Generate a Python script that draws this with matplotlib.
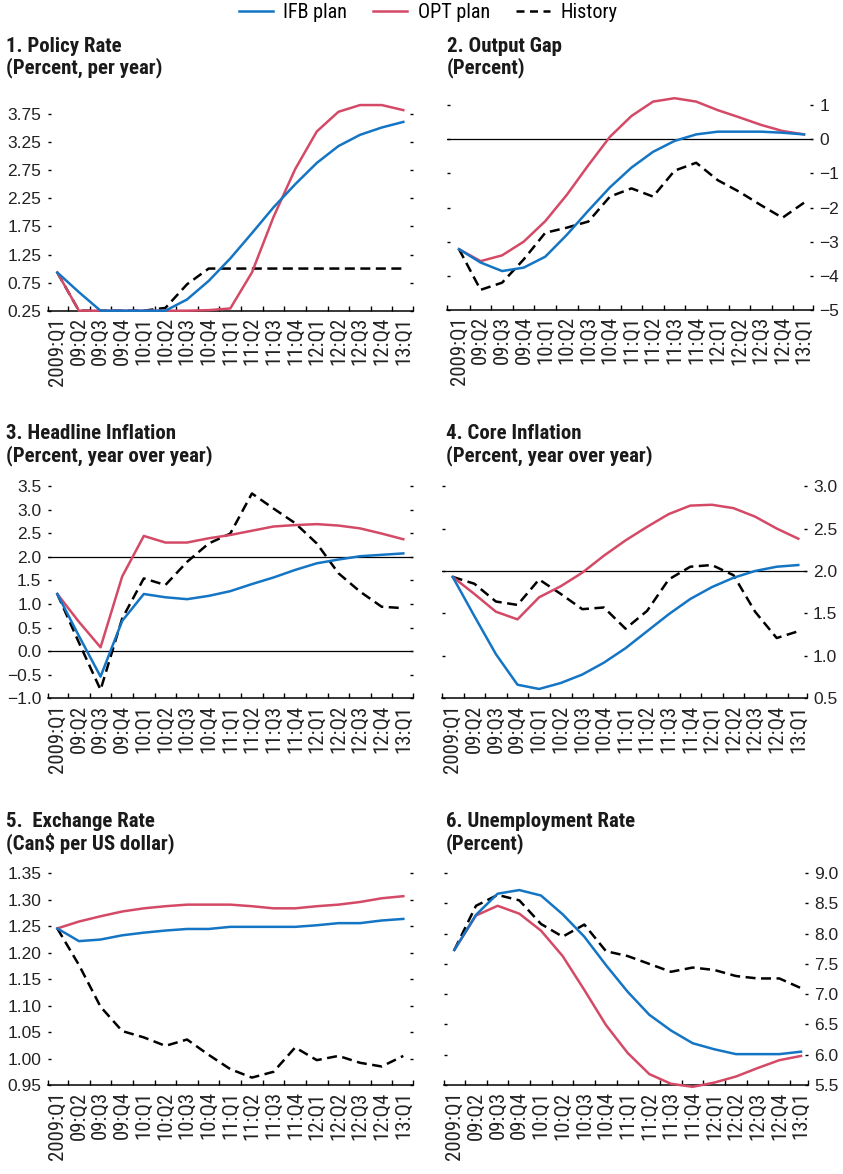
import matplotlib
matplotlib.use("Agg")
import matplotlib.pyplot as plt
from matplotlib import font_manager as fm
from matplotlib.lines import Line2D

# ---------------- data ----------------
quarters = ['2009:Q1', '09:Q2', '09:Q3', '09:Q4', '10:Q1', '10:Q2', '10:Q3', '10:Q4',
            '11:Q1', '11:Q2', '11:Q3', '11:Q4', '12:Q1', '12:Q2', '12:Q3', '12:Q4', '13:Q1']

policy_ifb = [0.93, 0.58, 0.25, 0.25, 0.25, 0.25, 0.45, 0.78, 1.18, 1.63, 2.09, 2.50, 2.88, 3.18, 3.38, 3.51, 3.61]
policy_opt = [0.93, 0.25, 0.25, 0.25, 0.25, 0.25, 0.25, 0.26, 0.29, 0.93, 1.92, 2.77, 3.44, 3.79, 3.91, 3.91, 3.82]
policy_hist = [0.93, 0.25, 0.25, 0.25, 0.25, 0.30, 0.72, 1.00, 1.00, 1.00, 1.00, 1.00, 1.00, 1.00, 1.00, 1.00, 1.00]

gap_ifb = [-3.22, -3.61, -3.86, -3.76, -3.44, -2.80, -2.09, -1.41, -0.83, -0.37, -0.05, 0.14, 0.22, 0.22, 0.22, 0.19, 0.14]
gap_opt = [-3.22, -3.57, -3.40, -3.00, -2.40, -1.63, -0.76, 0.07, 0.68, 1.10, 1.20, 1.10, 0.85, 0.64, 0.42, 0.24, 0.14]
gap_hist = [-3.22, -4.41, -4.20, -3.52, -2.74, -2.59, -2.41, -1.68, -1.44, -1.68, -0.92, -0.69, -1.20, -1.54, -1.93, -2.30, -1.86]

headline_ifb = [1.21, 0.32, -0.54, 0.64, 1.21, 1.14, 1.10, 1.17, 1.27, 1.42, 1.56, 1.72, 1.86, 1.94, 2.01, 2.04, 2.07]
headline_opt = [1.21, 0.62, 0.08, 1.58, 2.44, 2.30, 2.30, 2.39, 2.46, 2.55, 2.64, 2.67, 2.69, 2.66, 2.60, 2.49, 2.37]
headline_hist = [1.21, 0.18, -0.82, 0.69, 1.54, 1.40, 1.89, 2.28, 2.49, 3.34, 3.02, 2.71, 2.28, 1.65, 1.26, 0.94, 0.91]

core_ifb = [1.93, 1.47, 1.02, 0.66, 0.61, 0.68, 0.78, 0.92, 1.09, 1.29, 1.49, 1.67, 1.81, 1.92, 2.00, 2.05, 2.07]
core_opt = [1.93, 1.73, 1.52, 1.43, 1.69, 1.82, 1.98, 2.18, 2.36, 2.52, 2.67, 2.77, 2.78, 2.74, 2.64, 2.50, 2.38]
core_hist = [1.93, 1.85, 1.64, 1.60, 1.90, 1.73, 1.55, 1.57, 1.32, 1.53, 1.90, 2.05, 2.07, 1.95, 1.52, 1.21, 1.29]

fx_ifb = [1.246, 1.222, 1.225, 1.233, 1.238, 1.242, 1.245, 1.245, 1.249, 1.249, 1.249, 1.249, 1.252, 1.256, 1.256, 1.261, 1.264]
fx_opt = [1.246, 1.259, 1.269, 1.278, 1.284, 1.288, 1.291, 1.291, 1.291, 1.288, 1.284, 1.284, 1.288, 1.291, 1.296, 1.303, 1.307]
fx_hist = [1.246, 1.177, 1.098, 1.052, 1.040, 1.024, 1.036, 1.007, 0.980, 0.964, 0.975, 1.021, 0.997, 1.005, 0.992, 0.985, 1.005]

unemp_ifb = [7.73, 8.31, 8.66, 8.72, 8.63, 8.32, 7.95, 7.48, 7.04, 6.66, 6.40, 6.19, 6.09, 6.01, 6.01, 6.01, 6.05]
unemp_opt = [7.73, 8.30, 8.46, 8.33, 8.05, 7.63, 7.07, 6.49, 6.03, 5.68, 5.52, 5.47, 5.54, 5.64, 5.78, 5.91, 5.98]
unemp_hist = [7.73, 8.46, 8.64, 8.55, 8.16, 7.95, 8.15, 7.71, 7.63, 7.50, 7.37, 7.44, 7.40, 7.30, 7.26, 7.26, 7.10]

titles = [("1. Policy Rate", "(Percent, per year)"),
          ("2. Output Gap", "(Percent)"),
          ("3. Headline Inflation", "(Percent, year over year)"),
          ("4. Core Inflation", "(Percent, year over year)"),
          ("5.  Exchange Rate", "(Can$ per US dollar)"),
          ("6. Unemployment Rate", "(Percent)")]
series_names = ["IFB plan", "OPT plan", "History"]

# ---------------- fonts ----------------
names = {f.name for f in fm.fontManager.ttflist}
narrow = None
for cand in ['Liberation Sans Narrow', 'Roboto Condensed', 'Noto Sans Condensed',
             'Open Sans Condensed', 'DejaVu Sans Condensed']:
    if cand in names:
        narrow = cand
        break
if narrow is None:
    narrow_fam, scale = 'DejaVu Sans', 0.72
else:
    narrow_fam, scale = narrow, 1.0

BLUE = '#1475C4'
RED = '#D44A66'

W, H = 843, 1174
fig = plt.figure(figsize=(W / 100, H / 100), dpi=100)


def add_ax(l, r, top, bottom):
    return fig.add_axes([l / W, 1 - bottom / H, (r - l) / W, (bottom - top) / H])


# panel geometry: axis line extent (l, r), first/last data px (a, b), top, bottom
geo = [
    (47.7, 413.3, 57.3, 403.3, 100.0, 310.7),
    (446.7, 813.3, 459.0, 804.0, 99.9, 310.0),
    (47.7, 413.3, 57.3, 403.3, 474.1, 698.3),
    (441.7, 806.7, 452.7, 798.3, 474.2, 698.3),
    (47.7, 413.3, 57.3, 403.3, 860.2, 1085.0),
    (444.0, 808.3, 454.3, 801.0, 861.0, 1085.0),
]
ylims = [(0.25, 4.0), (-5, 1.15), (-1.0, 3.75), (0.5, 3.14), (0.95, 1.375), (5.5, 9.2)]
yticks = [[0.25, 0.75, 1.25, 1.75, 2.25, 2.75, 3.25, 3.75],
          [-5, -4, -3, -2, -1, 0, 1],
          [-1.0, -0.5, 0.0, 0.5, 1.0, 1.5, 2.0, 2.5, 3.0, 3.5],
          [0.5, 1.0, 1.5, 2.0, 2.5, 3.0],
          [0.95, 1.00, 1.05, 1.10, 1.15, 1.20, 1.25, 1.30, 1.35],
          [5.5, 6.0, 6.5, 7.0, 7.5, 8.0, 8.5, 9.0]]
yfmt = ['{:.2f}', '{:.0f}', '{:.1f}', '{:.1f}', '{:.2f}', '{:.1f}']
hlines = [[], [0], [0, 2], [2], [], []]
data = [(policy_ifb, policy_opt, policy_hist),
        (gap_ifb, gap_opt, gap_hist),
        (headline_ifb, headline_opt, headline_hist),
        (core_ifb, core_opt, core_hist),
        (fx_ifb, fx_opt, fx_hist),
        (unemp_ifb, unemp_opt, unemp_hist)]
title_pos = [(6.5, 52, 73), (447, 52, 73), (6.5, 439, 461), (446, 439, 461), (6.5, 827, 849), (446, 827, 849)]

x = list(range(len(quarters)))
for k in range(6):
    l, r, a, b, top, bot = geo[k]
    s = (b - a) / (len(x) - 1)
    ax = add_ax(l, r, top, bot)
    xlo = (l - a) / s
    xhi = (len(x) - 1) + (r - b) / s
    ax.set_xlim(xlo, xhi)
    ax.set_ylim(*ylims[k])
    for h in hlines[k]:
        ax.axhline(h, color='black', lw=0.9, zorder=1)
    ifb, opt, hist = data[k]
    ax.plot(x, hist, color='black', lw=1.8, dashes=(4, 2.2), zorder=3, clip_on=False)
    ax.plot(x, opt, color=RED, lw=1.8, zorder=4, clip_on=False)
    ax.plot(x, ifb, color=BLUE, lw=1.8, zorder=5, clip_on=False)

    for side in ['top', 'left', 'right']:
        ax.spines[side].set_visible(False)
    ax.spines['bottom'].set_linewidth(1.1)
    ax.set_facecolor('none')

    major = [xlo] + [i + 0.5 for i in range(len(x) - 1)] + [xhi]
    ax.set_xticks(major)
    ax.set_xticklabels([''] * len(major))
    ax.set_xticks(x, minor=True)
    ax.set_xticklabels(quarters, minor=True, rotation=90, va='top', ha='center',
                       family=narrow_fam, fontsize=15.0 * scale, color='#222222')
    ax.tick_params(axis='x', which='major', direction='in', length=3.8, width=1.0, color='black')
    ax.tick_params(axis='x', which='minor', length=0, pad=4.5)

    ax.set_yticks(yticks[k])
    ax.set_yticklabels([yfmt[k].format(v).replace('-', '\u2212') for v in yticks[k]])
    right = (k % 2 == 1)
    ax.tick_params(axis='y', direction='in', length=2.3, width=1.0, left=True, right=True,
                   labelleft=not right, labelright=right, labelsize=12.5, pad=4.5,
                   labelcolor='#222222')
    for t in ax.get_yticklabels():
        t.set_family('Liberation Sans')

    tx, b1, b2 = title_pos[k]
    fig.text(tx / W, 1 - b1 / H, titles[k][0], family=narrow_fam, weight='bold',
             fontsize=15.0 * scale, va='baseline', ha='left', color='#1a1a1a')
    fig.text(tx / W, 1 - b2 / H, titles[k][1], family=narrow_fam, weight='bold',
             fontsize=15.0 * scale, va='baseline', ha='left', color='#1a1a1a')

handles = [Line2D([], [], color=BLUE, lw=1.8),
           Line2D([], [], color=RED, lw=1.8),
           Line2D([], [], color='black', lw=1.8, dashes=(3.2, 2.2))]
fig.legend(handles, series_names, loc='center', bbox_to_anchor=(428 / W, 1 - 13 / H),
           ncol=3, frameon=False, prop={'family': narrow_fam, 'size': 14.5 * scale},
           handlelength=1.7, handletextpad=0.5, columnspacing=1.3, borderaxespad=0, borderpad=0)

fig.savefig('out.png', dpi=100)
